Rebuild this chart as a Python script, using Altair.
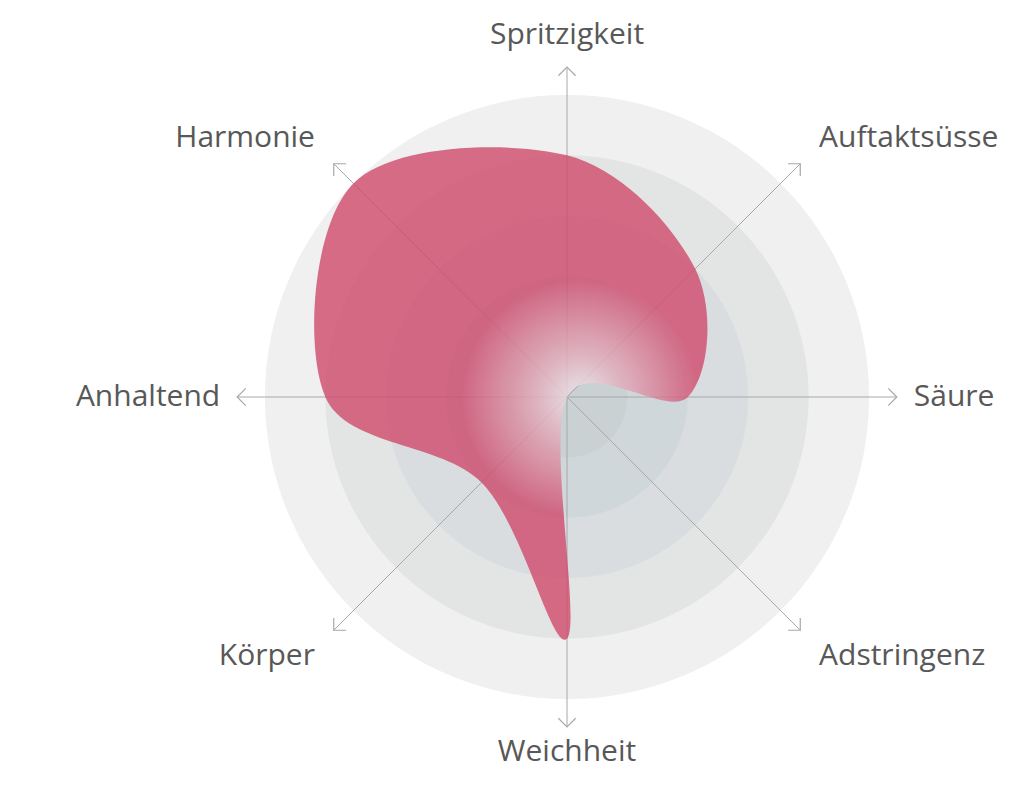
import math
import altair as alt
import pandas as pd

# ---- data ----
axes = ["Spritzigkeit", "Auftaktsüsse", "Säure", "Adstringenz",
        "Weichheit", "Körper", "Anhaltend", "Harmonie"]
values = [4, 3, 2, 0, 4, 2, 4, 5]
levels = [5, 4, 3, 2, 1]

# ---- style ----
level_colors = ["#f0f0f0", "#e3e4e4", "#d9dde0", "#cfd7da", "#c9d1d2"]
shape_color = "#cf4a6b"
line_color = "#a8a8a8"
text_color = "#585858"
FONT = "Open Sans"

df = pd.DataFrame({"axis": axes, "value": values, "idx": list(range(len(axes)))})
rings = pd.DataFrame({"level": levels})

XS = alt.Scale(domain=[-6, 6], nice=False, zero=False)
YS = alt.Scale(domain=[-6, 6], nice=False, zero=False)

ring_layer = alt.Chart(rings).mark_arc(theta=0, theta2=2 * math.pi, strokeWidth=0).encode(
    radius=alt.Radius("level:Q", stack=None,
                      scale=alt.Scale(type="linear", domain=[0, 6], range=[0, 362.5], zero=True)),
    color=alt.Color("level:O", scale=alt.Scale(domain=levels, range=level_colors), legend=None),
    order=alt.Order("level:Q", sort="descending"),
)

base = alt.Chart(df).transform_calculate(a="datum.idx * PI / 4")

rules = base.transform_calculate(
    x0="0", y0="0",
    xe="5.46 * sin(datum.a)", ye="5.46 * cos(datum.a)",
).mark_rule(color=line_color, strokeWidth=1).encode(
    x=alt.X("x0:Q", scale=XS, axis=None),
    y=alt.Y("y0:Q", scale=YS, axis=None),
    x2="xe:Q", y2="ye:Q",
)

arrows = base.transform_calculate(
    xe="5.46 * sin(datum.a)", ye="5.46 * cos(datum.a)", deg="datum.idx * 45",
).mark_point(shape="M-1,1L0,0L1,1", size=300, filled=False, color=line_color,
             strokeWidth=1.2, opacity=1).encode(
    x=alt.X("xe:Q", scale=XS, axis=None),
    y=alt.Y("ye:Q", scale=YS, axis=None),
    angle=alt.Angle("deg:Q", scale=None),
)

grad = alt.RadialGradient(
    gradient="radial",
    stops=[alt.GradientStop(color="#f0ecee", offset=0),
           alt.GradientStop(color="#e3aebd", offset=0.35),
           alt.GradientStop(color=shape_color, offset=1)],
    x1=0.641, y1=0.509, r1=0,
    x2=0.641, y2=0.509, r2=0.24,
)

shape = base.transform_calculate(
    px="datum.value * sin(datum.a)", py="datum.value * cos(datum.a)",
).mark_line(interpolate="cardinal-closed", fill=grad, fillOpacity=0.8,
            strokeWidth=0, strokeOpacity=0).encode(
    x=alt.X("px:Q", scale=XS, axis=None),
    y=alt.Y("py:Q", scale=YS, axis=None),
    order=alt.Order("idx:Q"),
)

lab = base.transform_calculate(
    s="sin(datum.a)", c="cos(datum.a)",
).transform_calculate(
    lx="datum.s * (abs(datum.c) < 0.1 ? 5.74 : 5.9)",
    ly="datum.c * (abs(datum.s) < 0.1 ? (datum.c > 0 ? 6.0 : 5.88) : 6.07)",
)

def label_layer(cond, align):
    return lab.transform_filter(cond).mark_text(
        align=align, baseline="middle", font=FONT, fontSize=30, color=text_color,
    ).encode(
        x=alt.X("lx:Q", scale=XS, axis=None),
        y=alt.Y("ly:Q", scale=YS, axis=None),
        text="axis:N",
    )

labels_c = label_layer("abs(datum.s) < 0.1", "center")
labels_r = label_layer("datum.s >= 0.1", "left")
labels_l = label_layer("datum.s <= -0.1", "right")

chart = alt.layer(ring_layer, rules, shape, arrows, labels_c, labels_r, labels_l).properties(
    width=725, height=725,
    autosize=alt.AutoSizeParams(type="none"),
    padding={"left": 196.5, "top": 26.5, "right": 80, "bottom": 20},
    background="white",
).configure_view(stroke=None)

chart.save("out.html", embed_options={"renderer": "svg", "actions": False})
